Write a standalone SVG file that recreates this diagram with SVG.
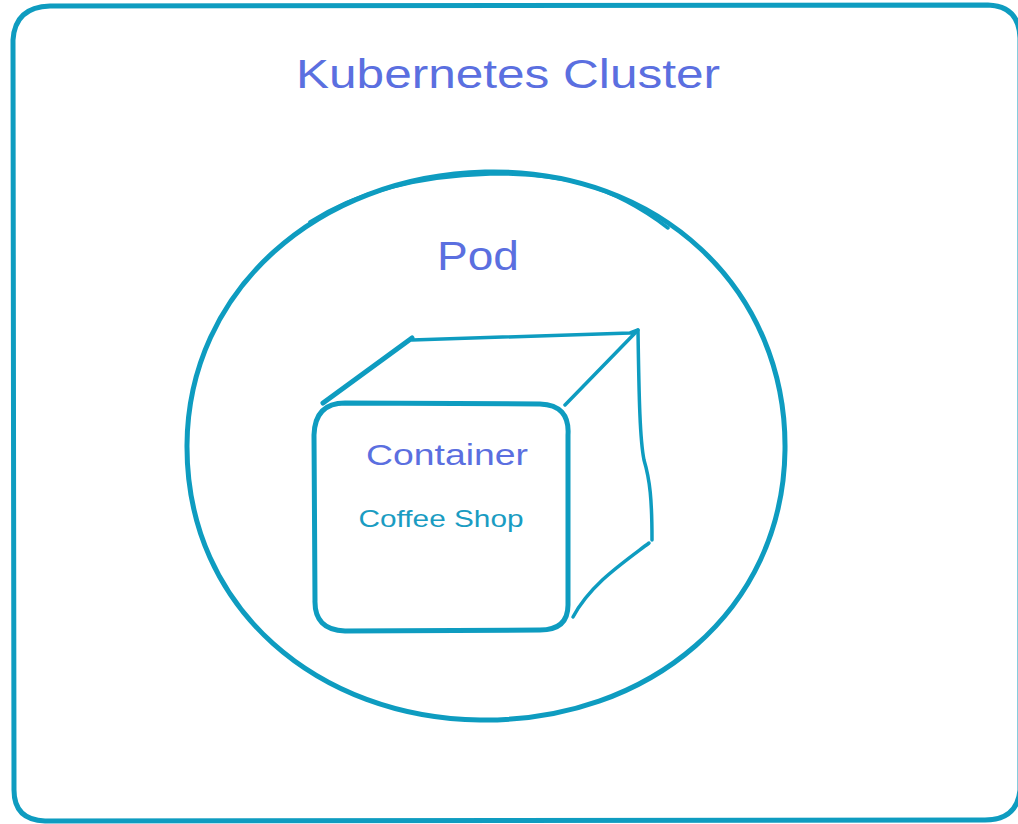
<svg xmlns="http://www.w3.org/2000/svg" width="1018" height="824" viewBox="0 0 1018 824">
<style>
.ln{fill:none;stroke:#0e9cc0;stroke-width:5;stroke-linecap:round;stroke-linejoin:round}
.thin{fill:none;stroke:#0e9cc0;stroke-width:3.5;stroke-linecap:round;stroke-linejoin:round}
.lbl{font-family:"Liberation Sans",Arial,sans-serif;fill:#5b6fe0;text-anchor:middle}
.sub{font-family:"Liberation Sans",Arial,sans-serif;fill:#1a9cc2;text-anchor:middle}
</style>
<rect width="1018" height="824" fill="#ffffff"/>
<g id="cluster">
<path class="ln" d="M50 6 L988 5 Q1019 6 1020 38 L1020 790 Q1017 820 985 820 L45 821 Q14 820 14 790 L13 40 Q15 7 50 6 Z"/>
<text class="lbl" x="508" y="88" font-size="40" textLength="424" lengthAdjust="spacingAndGlyphs">Kubernetes Cluster</text>
</g>
<g id="pod">
<path class="ln" d="M485 172 C660 168 787 290 785 450 C783 610 650 722 480 720 C320 718 186 610 187 445 C188 290 318 176 485 172 Z"/>
<path class="thin" d="M310 222 C360 190 420 176 490 174 C560 173 610 184 668 228"/>
<text class="lbl" x="478" y="270" font-size="40" textLength="82" lengthAdjust="spacingAndGlyphs">Pod</text>
</g>
<g id="container">
<path class="ln" d="M323 403 L412 338"/>
<path class="thin" d="M412 340 L630 333 L638 330 L565 405"/>
<path class="thin" d="M638 330 C639 400 640 440 644 460 C650 480 652 500 652 540"/>
<path class="thin" d="M649 543 C620 565 590 585 573 617"/>
<path class="ln" d="M345 403 L540 404 Q570 405 568 435 L568 605 Q568 630 540 630 L345 631 Q314 630 315 600 L314 435 Q315 403 345 403 Z"/>
<text class="lbl" x="447" y="465" font-size="30" textLength="162" lengthAdjust="spacingAndGlyphs">Container</text>
<text class="sub" x="441" y="527" font-size="24" textLength="165" lengthAdjust="spacingAndGlyphs">Coffee Shop</text>
</g>
<g id="connectors"></g>
</svg>
